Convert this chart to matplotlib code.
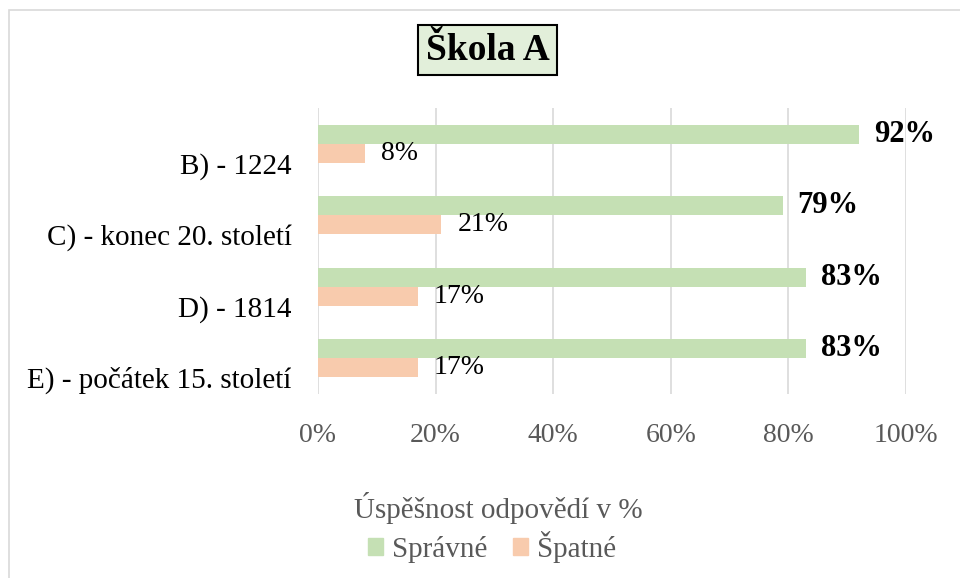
import matplotlib.pyplot as plt
from matplotlib.patches import Rectangle, Patch
from matplotlib.ticker import PercentFormatter
import numpy as np

plt.rcParams["font.family"] = ["Liberation Serif", "DejaVu Serif"]

# Data
categories = ["B) - 1224", "C) - konec 20. století", "D) - 1814", "E) - počátek 15. století"]
spravne = [92, 79, 83, 83]
spatne = [8, 21, 17, 17]

GREEN = "#C5E0B4"
ORANGE = "#F8CBAD"
GRAY = "#595959"

fig = plt.figure(figsize=(9.6, 5.78), dpi=100)
ax = fig.add_axes([318 / 960, 1 - 394 / 578, (906 - 318) / 960, 286 / 578])

# chart frame (light gray border, runs off the image on right/bottom)
fig.patches.append(Rectangle((8.5 / 960, -0.1), 1.2, 1 - 10.5 / 578 + 0.1,
                             transform=fig.transFigure, fill=False,
                             edgecolor="#D9D9D9", linewidth=1.2))

y = np.arange(len(categories))
h = 0.265
ax.barh(y - h / 2, spravne, height=h, color=GREEN, label="Správné", zorder=2)
ax.barh(y + h / 2, spatne, height=h, color=ORANGE, label="Špatné", zorder=2)

for yi, v in zip(y, spravne):
    ax.text(v + 2.5, yi - h / 2, f"{v}%", va="center", ha="left",
            fontsize=22, fontweight="bold", color="black")
for yi, v in zip(y, spatne):
    ax.text(v + 2.7, yi + h / 2, f"{v}%", va="center", ha="left",
            fontsize=20, color="black")

ax.set_xlim(0, 100)
ax.set_ylim(3.5, -0.5)
ax.set_xticks(range(0, 101, 20))
ax.xaxis.set_major_formatter(PercentFormatter(decimals=0))
# category labels sit a bit below the group centre, as in the original
ax.set_yticks(y + 0.27)
ax.set_yticklabels(categories, fontsize=21, color="black")
ax.tick_params(axis="x", labelsize=20, colors=GRAY, length=0, pad=21)
ax.tick_params(axis="y", length=0, pad=19)
ax.grid(axis="x", color="#D9D9D9", linewidth=1.2, zorder=0)
for s in ax.spines.values():
    s.set_visible(False)

fig.text(487.5 / 960, 1 - 50 / 578, "Škola A", ha="center", va="center",
         fontsize=27, fontweight="bold",
         bbox=dict(boxstyle="square,pad=0.2", facecolor="#E2EFDA",
                   edgecolor="black", linewidth=1.5))

fig.text(498 / 960, 1 - 508 / 578, "Úspěšnost odpovědí v %", ha="center",
         va="center", fontsize=21, color=GRAY)
handles = [Patch(color=GREEN, label="Správné"), Patch(color=ORANGE, label="Špatné")]
fig.legend(handles=handles, loc="center", bbox_to_anchor=(492 / 960, 1 - 547 / 578),
           ncol=2, frameon=False, fontsize=21, labelcolor=GRAY,
           handlelength=0.5, handleheight=0.5, handletextpad=0.3,
           columnspacing=0.9)

fig.savefig("out.png", dpi=100)
